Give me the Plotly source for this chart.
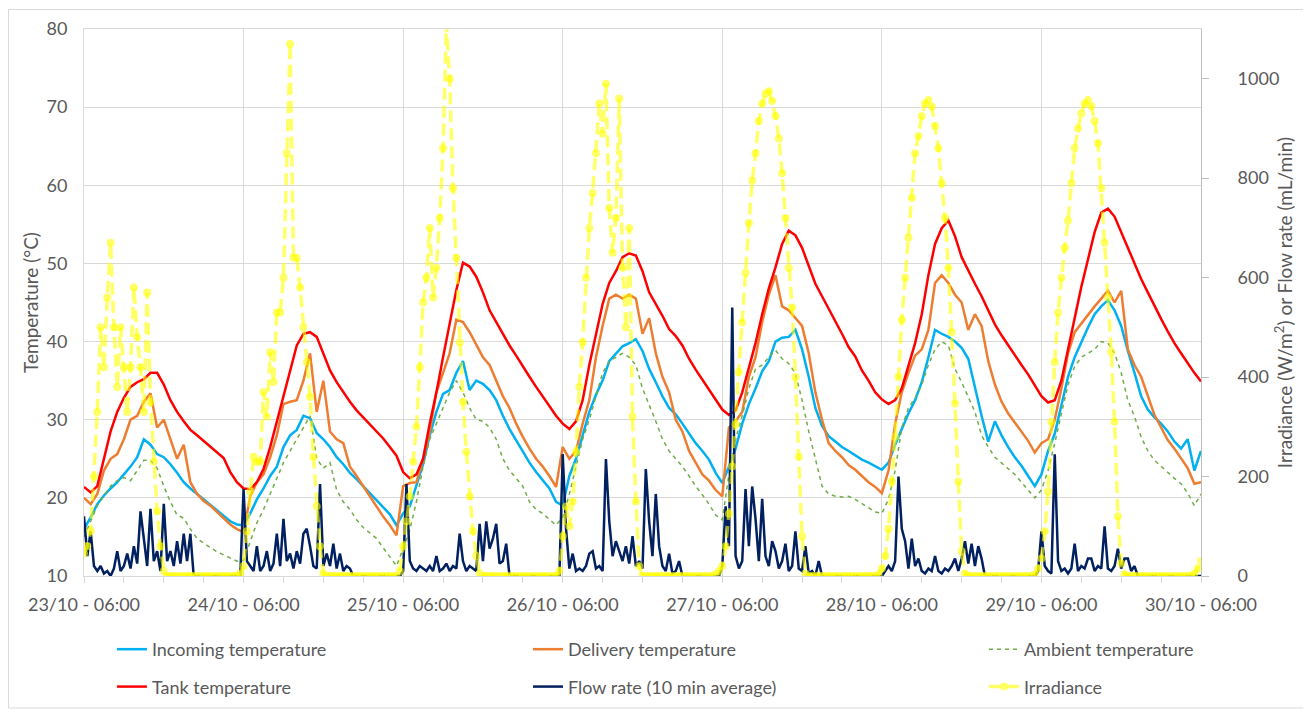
import pandas as pd
import plotly.graph_objects as go

# ---------------- data ----------------
start = "2019-10-23 06:00"
hours = pd.date_range(start, periods=169, freq="h")
half_hours = pd.date_range(start, periods=337, freq="30min")

tick_start = "2019-10-23 06:00"
tick_end = "2019-10-30 06:00"

incoming = [
    16.0, 17.5, 19.2, 20.3, 21.2, 22.0, 23.0, 24.0, 25.2, 27.5, 26.8, 25.6, 25.2, 24.3, 23.2, 22.0, 21.2, 20.5, 19.8, 19.2, 18.5, 17.8, 17.0, 16.6,
    16.5, 18.0, 19.8, 21.2, 22.8, 24.0, 26.5, 28.0, 28.7, 30.5, 30.2, 28.3, 27.5, 26.5, 25.2, 24.3, 23.2, 22.4, 21.5, 20.6, 19.7, 18.9, 17.9, 16.5,
    18.0, 18.9, 21.5, 24.3, 28.0, 31.0, 33.3, 33.8, 36.0, 37.5, 33.8, 35.0, 34.6, 33.8, 32.5, 30.5, 28.8, 27.4, 25.9, 24.5, 23.3, 22.3, 21.2, 19.5,
    19.0, 22.8, 25.0, 28.0, 31.0, 33.2, 35.0, 37.5, 38.5, 39.4, 39.8, 40.3, 38.8, 36.5, 34.8, 33.0, 31.5, 30.7, 29.5, 28.2, 27.0, 26.0, 24.9, 23.2,
    21.9, 24.0, 26.3, 29.5, 32.0, 34.0, 36.2, 37.5, 40.0, 40.5, 40.6, 41.5, 39.0, 35.5, 31.5, 29.2, 27.9, 27.2, 26.5, 26.0, 25.4, 24.9, 24.5, 24.0,
    23.6, 24.5, 26.8, 28.8, 30.8, 32.5, 34.8, 38.0, 41.5, 41.0, 40.6, 40.0, 39.2, 37.8, 34.0, 30.5, 27.2, 29.8, 28.0, 26.5, 25.2, 24.1, 22.8, 21.5,
    23.0, 26.0, 28.2, 31.8, 35.5, 38.0, 40.0, 41.8, 43.5, 44.5, 45.3, 44.0, 42.0, 38.8, 36.0, 33.0, 31.3, 30.3, 29.5, 28.5, 27.2, 26.3, 27.5, 23.5,
    26.0,
]

delivery = [
    20.0, 19.2, 20.5, 23.5, 25.0, 25.6, 27.5, 30.0, 30.5, 32.3, 33.4, 29.0, 30.0, 27.5, 25.0, 26.8, 22.0, 20.5, 19.6, 19.0, 18.2, 17.3, 16.6, 16.0,
    15.6, 20.2, 22.0, 23.0, 25.2, 28.0, 32.0, 32.3, 32.5, 35.0, 38.5, 31.0, 35.0, 28.5, 27.5, 27.0, 24.0, 22.8, 21.5, 20.3, 19.0, 17.6, 16.5, 15.2,
    21.5, 21.9, 22.0, 25.0, 28.5, 33.5, 36.0, 38.5, 42.8, 42.5, 41.2, 39.5, 38.0, 37.0, 35.0, 33.0, 31.5, 29.5, 27.8, 26.3, 25.0, 24.0, 22.8, 21.4,
    26.5, 25.0, 26.0, 29.5, 32.5, 38.0, 42.0, 45.5, 46.0, 45.5, 46.0, 45.5, 41.0, 43.0, 38.5, 35.5, 33.5, 30.0, 28.5, 26.0, 24.5, 23.0, 22.2, 21.0,
    20.2, 29.0, 29.8, 31.0, 35.5, 38.0, 42.5, 46.0, 48.5, 44.5, 44.0, 43.0, 42.0, 38.5, 33.5, 30.0, 27.0, 26.0, 25.2, 24.2, 23.6, 22.8, 22.0, 21.4,
    20.6, 23.5, 29.5, 33.5, 36.0, 38.2, 39.0, 41.5, 47.5, 48.5, 47.5, 46.0, 45.0, 41.5, 43.5, 42.0, 37.5, 34.5, 32.3, 30.8, 29.6, 28.5, 27.3, 25.8,
    27.0, 27.5, 30.0, 34.0, 38.5, 41.2, 42.3, 43.5, 44.5, 45.5, 46.5, 45.0, 46.5, 39.0, 37.0, 35.5, 33.0, 30.6, 29.0, 27.4, 26.3, 25.0, 23.8, 21.8,
    22.0,
]

ambient = [
    15.0, 17.0, 19.0, 20.3, 21.5, 22.2, 22.6, 22.2, 23.5, 24.8, 24.8, 23.8, 21.5, 19.5, 17.8, 17.4, 16.0, 14.8, 14.2, 13.6, 13.1, 12.7, 12.3, 11.9,
    12.0, 14.5, 16.8, 18.5, 20.5, 22.5, 24.5, 26.0, 27.5, 29.0, 30.5, 25.0, 23.8, 24.5, 21.0, 19.5, 18.5, 17.2, 16.2, 15.5, 14.8, 13.6, 12.5, 11.3,
    13.5, 15.9, 19.5, 24.0, 27.5, 29.5, 31.5, 33.5, 35.0, 33.5, 31.5, 30.0, 29.8, 29.0, 27.5, 25.0, 23.5, 22.5, 21.5, 19.5, 18.5, 18.0, 17.2, 16.5,
    17.5, 20.5, 24.0, 27.5, 30.0, 33.0, 36.0, 37.5, 38.0, 38.5, 38.0, 37.0, 34.0, 32.0, 29.8, 27.5, 26.0, 25.0, 24.0, 22.8, 21.5, 20.4, 19.2, 17.8,
    17.2, 23.0, 27.5, 30.5, 34.0, 36.5, 37.0, 38.0, 38.9, 37.8, 37.2, 35.9, 32.5, 28.5, 25.0, 21.5, 20.5, 20.2, 20.1, 20.2, 19.8, 19.3, 18.7, 18.2,
    18.0, 19.8, 23.5, 29.0, 31.5, 32.8, 34.5, 37.0, 39.0, 40.0, 39.5, 36.5, 34.8, 33.0, 31.0, 28.0, 26.5, 25.2, 24.5, 23.8, 23.0, 22.0, 21.0, 20.0,
    21.0, 23.5, 27.0, 30.8, 34.5, 36.8, 38.0, 38.5, 39.0, 40.0, 39.8, 38.5, 36.0, 32.5, 30.4, 27.8, 26.0, 24.8, 24.0, 23.2, 22.5, 21.8, 20.6, 19.0,
    20.5,
]

tank = [
    21.4, 20.7, 21.5, 25.0, 28.5, 31.0, 32.8, 34.2, 34.8, 35.2, 36.0, 36.0, 34.5, 32.5, 31.0, 29.8, 28.7, 28.0, 27.3, 26.6, 25.9, 25.1, 23.3, 22.0,
    21.2, 21.1, 22.0, 23.7, 26.5, 29.8, 33.0, 36.5, 39.5, 41.0, 41.2, 40.6, 38.5, 36.3, 34.8, 33.5, 32.3, 31.2, 30.3, 29.5, 28.5, 27.6, 26.5, 25.4,
    23.3, 22.5, 23.0, 25.0, 29.5, 33.5, 38.0, 42.5, 46.6, 50.1, 49.6, 48.3, 46.3, 44.0, 42.5, 41.0, 39.5, 38.2, 36.8, 35.5, 34.2, 33.0, 31.8, 30.5,
    29.5, 28.8, 29.8, 32.5, 37.0, 41.0, 44.8, 47.5, 49.0, 50.8, 51.3, 51.0, 49.0, 46.3, 44.8, 43.3, 41.6, 40.7, 39.5, 37.8, 36.4, 35.1, 33.8, 32.5,
    31.3, 30.6, 31.2, 33.5, 36.5, 39.8, 43.5, 46.8, 49.5, 52.5, 54.2, 53.6, 52.0, 49.8, 47.4, 45.8, 44.2, 42.8, 41.0, 39.3, 38.1, 36.3, 35.0, 33.5,
    32.6, 32.0, 32.5, 34.0, 37.0, 39.8, 43.5, 48.5, 52.5, 54.5, 55.5, 53.5, 50.8, 49.0, 47.4, 45.8, 44.0, 42.2, 40.8, 39.5, 38.3, 37.0, 35.8, 34.4,
    33.0, 32.2, 32.5, 35.0, 39.0, 43.0, 47.0, 50.5, 54.0, 56.5, 57.0, 56.0, 54.0, 51.8, 49.8, 48.0, 46.3, 44.5, 42.9, 41.3, 39.8, 38.5, 37.2, 36.0,
    34.9,
]

flow = [
    120, 40, 90, 20, 10, 20, 5, 10, 0, 15, 50, 10, 20, 45, 15, 60, 25, 130, 75, 20, 135, 30, 50, 10,
    145, 30, 50, 20, 70, 25, 85, 30, 85, 0, 0, 0, 0, 0, 0, 0, 0, 0, 0, 0, 0, 0, 0, 0,
    175, 30, 20, 10, 60, 10, 20, 50, 10, 25, 85, 20, 115, 30, 45, 15, 50, 25, 85, 95, 60, 20, 15, 185,
    20, 45, 20, 65, 15, 45, 10, 20, 15, 0, 0, 0, 0, 0, 0, 0, 0, 0, 0, 0, 0, 0, 0, 0,
    10, 185, 30, 15, 10, 20, 15, 10, 20, 10, 40, 10, 15, 25, 10, 20, 15, 85, 30, 10, 20, 15, 10, 105,
    30, 110, 55, 75, 105, 25, 30, 65, 0, 0, 0, 0, 0, 0, 0, 0, 0, 0, 0, 0, 0, 0, 0, 0,
    245, 95, 15, 45, 10, 15, 10, 20, 45, 50, 15, 20, 10, 235, 110, 40, 70, 50, 30, 60, 25, 80, 20, 30,
    15, 215, 110, 40, 165, 60, 20, 10, 45, 5, 10, 30, 0, 0, 0, 0, 0, 0, 0, 0, 0, 0, 0, 0,
    20, 140, 60, 540, 40, 15, 30, 175, 60, 180, 115, 30, 155, 40, 20, 70, 50, 15, 30, 65, 10, 20, 90, 15,
    10, 60, 5, 10, 0, 30, 0, 0, 0, 0, 0, 0, 0, 0, 0, 0, 0, 0, 0, 0, 0, 0, 0, 0,
    0, 10, 20, 10, 30, 200, 95, 70, 15, 75, 20, 35, 10, 5, 15, 10, 40, 10, 5, 15, 10, 20, 35, 10,
    35, 70, 25, 65, 20, 60, 35, 0, 0, 0, 0, 0, 0, 0, 0, 0, 0, 0, 0, 0, 0, 0, 0, 10,
    90, 20, 10, 5, 245, 30, 10, 15, 5, 15, 65, 10, 20, 15, 35, 35, 10, 20, 15, 100, 15, 10, 20, 55,
    15, 35, 35, 10, 20, 0, 0, 0, 0, 0, 0, 0, 0, 0, 0, 0, 0, 0, 0, 0, 0, 0, 0, 0,
    0,
]

irradiance = [
    45, 60, 90, 200, 330, 500, 420, 560, 670, 500, 380, 500, 420, 330, 420, 580, 480, 420, 330, 570, 350, 230, 130, 60,
    10, 0, 0, 0, 0, 0, 0, 0, 0, 0, 0, 0, 0, 0, 0, 0, 0, 0, 0, 0, 0, 0, 0, 5,
    20, 90, 170, 240, 230, 230, 370, 320, 450, 390, 530, 530, 600, 850, 1070, 640, 640, 580, 500, 430, 360, 240, 140, 60,
    5, 0, 0, 0, 0, 0, 0, 0, 0, 0, 0, 0, 0, 0, 0, 0, 0, 0, 0, 0, 0, 0, 0, 10,
    60, 110, 160, 230, 300, 420, 550, 600, 700, 560, 620, 720, 860, 1110, 1000, 780, 640, 470, 350, 250, 160, 90, 40, 5,
    0, 0, 0, 0, 0, 0, 0, 0, 0, 0, 0, 0, 0, 0, 0, 0, 0, 0, 0, 0, 0, 0, 0, 10,
    80, 140, 100, 150, 250, 380, 470, 600, 700, 770, 850, 950, 890, 990, 740, 650, 720, 960, 620, 500, 700, 320, 150, 20,
    0, 0, 0, 0, 0, 0, 0, 0, 0, 0, 0, 0, 0, 0, 0, 0, 0, 0, 0, 0, 0, 0, 3, 10,
    20, 60, 125, 220, 305, 410, 510, 610, 710, 795, 850, 915, 950, 970, 975, 955, 925, 880, 810, 720, 620, 540, 400, 240,
    80, 5, 0, 0, 0, 0, 0, 0, 0, 0, 0, 0, 0, 0, 0, 0, 0, 0, 0, 0, 0, 0, 0, 3,
    15, 40, 95, 190, 280, 400, 515, 600, 680, 760, 850, 885, 925, 950, 957, 944, 905, 860, 790, 720, 620, 490, 347, 190,
    50, 5, 0, 0, 0, 0, 0, 0, 0, 0, 0, 0, 0, 0, 0, 0, 0, 0, 0, 0, 0, 0, 3, 15,
    35, 90, 170, 310, 430, 530, 600, 660, 715, 790, 860, 900, 930, 950, 957, 945, 915, 870, 780, 670, 560, 450, 310, 120,
    25, 3, 0, 0, 0, 0, 0, 0, 0, 0, 0, 0, 0, 0, 0, 0, 0, 0, 0, 0, 0, 0, 5, 15,
    30,
]

assert len(incoming) == len(delivery) == len(ambient) == len(tank) == len(hours)
assert len(flow) == len(irradiance) == len(half_hours)

# ---------------- styling ----------------
FONT = "Lato"
GREY = "#595959"
GRID = "#d9d9d9"

fig = go.Figure()

fig.add_trace(go.Scatter(x=hours, y=incoming, name="Incoming temperature", mode="lines",
                         line=dict(color="#00B0F0", width=2.5), legend="legend", legendgroup="a"))
fig.add_trace(go.Scatter(x=hours, y=delivery, name="Delivery temperature", mode="lines",
                         line=dict(color="#ED7D31", width=2.5), legend="legend2", legendgroup="b"))
fig.add_trace(go.Scatter(x=hours, y=ambient, name="Ambient temperature", mode="lines",
                         line=dict(color="#70AD47", width=1.5, dash="4px,4px"), legend="legend3", legendgroup="c"))
fig.add_trace(go.Scatter(x=hours, y=tank, name="Tank temperature", mode="lines",
                         line=dict(color="#FF0000", width=2.5), legend="legend", legendgroup="d"))
fig.add_trace(go.Scatter(x=half_hours, y=flow, name="Flow rate (10 min average)", mode="lines",
                         line=dict(color="#002060", width=2.5), yaxis="y2", legend="legend2", legendgroup="e"))
fig.add_trace(go.Scatter(x=half_hours, y=irradiance, name="Irradiance", mode="lines+markers",
                         line=dict(color="rgba(255,255,0,0.6)", width=3.5, dash="12px,6px"),
                         marker=dict(symbol="circle", size=8, color="rgba(255,255,0,0.6)"),
                         yaxis="y2", legend="legend3", legendgroup="f"))

legend_common = dict(yref="container", y=0.1113, yanchor="top", xanchor="left", orientation="v",
                     tracegroupgap=11, bgcolor="rgba(0,0,0,0)",
                     font=dict(family=FONT, size=18, color=GREY))

fig.update_layout(
    width=1303, height=701,
    margin=dict(l=76, r=110, t=21, b=133, autoexpand=False),
    paper_bgcolor="white", plot_bgcolor="white",
    font=dict(family=FONT, size=18, color=GREY),
    showlegend=True,
    legend=dict(x=0.025, **legend_common),
    legend2=dict(x=0.3975, **legend_common),
    legend3=dict(x=0.8057, **legend_common),
    xaxis=dict(
        type="date", range=[tick_start, tick_end], automargin=False,
        tick0=tick_start, dtick=86400000, tickformat="%d/%m - %H:%M",
        showgrid=True, gridcolor=GRID, gridwidth=1,
        ticks="outside", ticklen=6, tickcolor=GRID,
        minor=dict(dtick=6 * 3600000, ticks="outside", ticklen=6, tickcolor=GRID, showgrid=False),
        showline=True, linecolor=GRID, mirror=True,
        tickfont=dict(family=FONT, size=18, color=GREY),
        ticklabelstandoff=6,
    ),
    yaxis=dict(
        range=[10, 80], dtick=10, showgrid=True, gridcolor=GRID, gridwidth=1, automargin=False,
        zeroline=False, showline=True, linecolor=GRID, ticks="",
        tickfont=dict(family=FONT, size=18, color=GREY), ticklabelstandoff=12,
        title=dict(text="Temperature (°C)", font=dict(family=FONT, size=19, color=GREY), standoff=2),
    ),
    yaxis2=dict(
        overlaying="y", side="right", range=[0, 1100], automargin=False,
        tickvals=[0, 200, 400, 600, 800, 1000], showgrid=False, zeroline=False,
        showline=True, linecolor="#bfbfbf", ticks="outside", ticklen=7, tickcolor="#bfbfbf",
        tickfont=dict(family=FONT, size=18, color=GREY), ticklabelstandoff=25,
        title=dict(text="Irradiance (W/m<sup>2</sup>) or Flow rate (mL/min)",
                   font=dict(family=FONT, size=19, color=GREY), standoff=0),
    ),
    shapes=[dict(type="rect", xref="paper", yref="paper",
                 x0=-0.0676, x1=1.0967, y0=-0.2413, y1=1.0356,
                 line=dict(color=GRID, width=1), fillcolor="rgba(0,0,0,0)", layer="below")],
)

fig.write_html("out.html")
